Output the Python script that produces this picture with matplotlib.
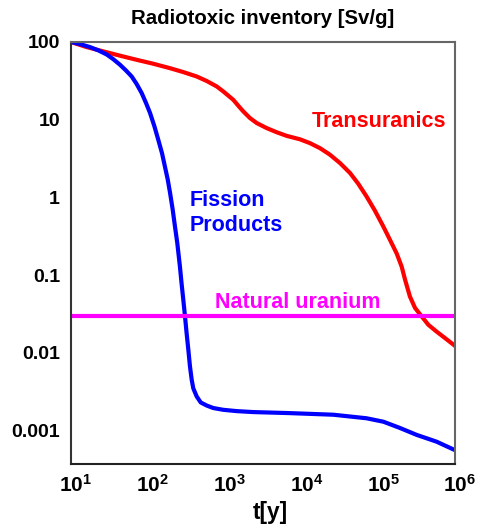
import numpy as np
import matplotlib
matplotlib.use("Agg")
import matplotlib.pyplot as plt
import matplotlib.transforms as mtransforms
from matplotlib.ticker import FixedLocator, FixedFormatter, NullLocator

plt.rcParams['font.family'] = ['Liberation Sans', 'DejaVu Sans']
plt.rcParams['mathtext.fontset'] = 'custom'
plt.rcParams['mathtext.rm'] = 'Liberation Sans:bold'
plt.rcParams['mathtext.bf'] = 'Liberation Sans:bold'

# Transuranics
tru_t = [10, 16, 26.4, 43.4, 71.6, 118, 195, 290, 433, 585, 789, 962, 1300, 1510,
         1750, 2140, 2620, 3530, 4760, 6420, 9560, 12900, 17500, 23500, 31800,
         43000, 55000, 70500, 90700, 117000, 142000, 174000, 202000, 224000,
         259000, 302000, 368000, 449000, 575000, 741000, 1000000]
tru_v = [100, 86, 75.7, 66.7, 59, 52.5, 46, 41, 36, 31.5, 26.8, 23.1, 18, 15.1,
         12.8, 10.5, 9.06, 7.8, 6.9, 6.2, 5.6, 5.0, 4.3, 3.55, 2.77,
         2.06, 1.5, 1.03, 0.675, 0.42, 0.286, 0.19, 0.129, 0.087,
         0.053, 0.0378, 0.0295, 0.023, 0.0188, 0.0155, 0.0123]

# Fission products
fp_t = [10, 13.1, 17.7, 22.7, 29.2, 35.6, 43.4, 52, 61.7, 71.6, 83.3, 94.8,
        107, 122, 137, 153, 167, 182, 195, 211, 226, 242, 262, 275, 290, 305,
        320, 337, 354, 373, 391, 433, 489, 585, 713, 962, 1440, 2370, 6760,
        26000, 70500, 117000, 192000, 317000, 575000, 1000000]
fp_v = [100, 94, 86, 78, 69, 60, 51, 43, 36, 28.8, 22, 16.4,
        12.2, 8.2, 5.5, 3.72, 2.5, 1.69, 1.14, 0.695, 0.42, 0.259, 0.129, 0.079,
        0.048, 0.0295, 0.018, 0.011, 0.0067, 0.0045, 0.0035, 0.00275, 0.0023,
        0.0021, 0.00195, 0.00185, 0.00178, 0.00173, 0.00168, 0.0016, 0.00144,
        0.0013, 0.00108, 0.00088, 0.00072, 0.00056]

nat_u = 0.0295

x_ticks = [1e1, 1e2, 1e3, 1e4, 1e5, 1e6]
x_labels = [r'$\mathbf{10^{%d}}$' % e for e in range(1, 7)]
y_ticks = [100, 10, 1, 0.1, 0.01, 0.001]
y_labels = ['100', '10', '1', '0.1', '0.01', '0.001']

fig = plt.figure(figsize=(4.78, 5.28), dpi=100)
ax = fig.add_axes([71 / 478, 1 - 464 / 528, (455 - 71) / 478, (464 - 42) / 528])

ax.plot(tru_t, tru_v, color='#ff0000', lw=3, solid_joinstyle='round')
ax.plot(fp_t, fp_v, color='#0000ff', lw=3, solid_joinstyle='round')
ax.axhline(nat_u, color='#ff00ff', lw=3)

ax.set_xscale('log')
ax.set_yscale('log')
ax.set_xlim(10, 1e6)
ax.set_ylim(10 ** -3.43, 100)

ax.xaxis.set_major_locator(FixedLocator(x_ticks))
ax.xaxis.set_major_formatter(FixedFormatter(x_labels))
ax.xaxis.set_minor_locator(NullLocator())
ax.yaxis.set_major_locator(FixedLocator(y_ticks))
ax.yaxis.set_major_formatter(FixedFormatter(y_labels))
ax.yaxis.set_minor_locator(NullLocator())
ax.tick_params(axis='y', length=0, pad=8, labelsize=14)
ax.tick_params(axis='x', length=0, pad=7, labelsize=15)
for lab in ax.get_yticklabels():
    lab.set_fontweight('bold')
shift = mtransforms.ScaledTranslation(5 / 100, 0, fig.dpi_scale_trans)
for lab in ax.get_xticklabels():
    lab.set_transform(lab.get_transform() + shift)

for sp in ax.spines.values():
    sp.set_color('#666666')
    sp.set_linewidth(1.5)
ax.spines['left'].set_color('#333333')
ax.spines['bottom'].set_color('#222222')

ax.set_title('Radiotoxic inventory [Sv/g]', fontsize=14.7, fontweight='bold', pad=13)
ax.set_xlabel('t[y]', fontsize=16.4, fontweight='bold')
ax.xaxis.set_label_coords(0.518, -0.088)

ax.text(1.02e5, 9.4, 'Transuranics', color='#ff0000', fontsize=15.5,
        fontweight='bold', ha='center', va='center')
ax.text(355, 0.63, 'Fission\nProducts', color='#0000ff', fontsize=15.5,
        fontweight='bold', ha='left', va='center', linespacing=1.2)
ax.text(8900, 0.044, 'Natural uranium', color='#ff00ff', fontsize=15.5,
        fontweight='bold', ha='center', va='center')

fig.savefig('out.png', dpi=100)
